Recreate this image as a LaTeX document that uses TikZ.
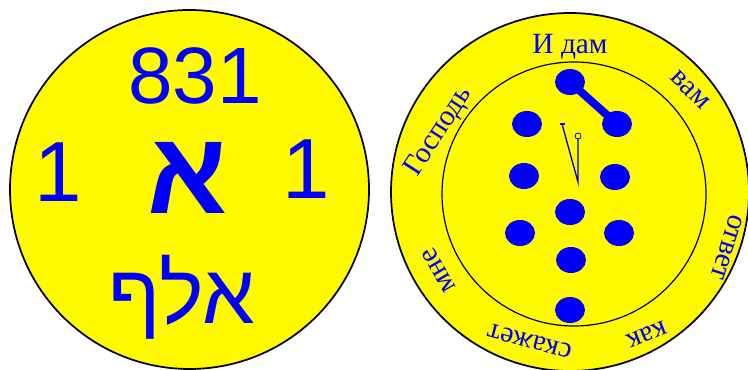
\documentclass[tikz,border=0pt]{standalone}
\usepackage{fontspec}
\setmainfont{Liberation Serif}
\newfontfamily\hebfont[Script=Hebrew]{Liberation Sans}
\newfontfamily\numfont{Liberation Sans}
\TeXXeTstate=1
\usepackage{tikz}
\usetikzlibrary{shapes.geometric, positioning, calc}
\definecolor{coinyellow}{RGB}{255,250,0}
\definecolor{inkblue}{RGB}{0,0,250}

\tikzset{
  coin/.style={draw=black, line width=1.3pt, fill=coinyellow},
  pip/.style={ellipse, fill=inkblue, minimum width=22.5pt, minimum height=19.5pt, inner sep=0pt},
  rimword/.style={text=inkblue, font=\fontsize{22}{26}\selectfont, inner sep=0pt},
  bignum/.style={text=inkblue, font=\numfont\fontsize{60}{70}\selectfont, inner sep=0pt}
}

\begin{document}
\begin{tikzpicture}[x=0.75pt, y=-0.75pt]

  \useasboundingbox (0,0) rectangle (748,370);

  % Coins
  \draw[coin] (189.5,189.5) circle (179.5);
  \draw[coin] (570,192) circle (179);
  \draw[black, line width=0.9pt] (574,194) circle (132);

  % Left face
  \node[bignum] (num) at (195,76) {831};
  \node[bignum, font=\numfont\fontsize{64}{70}\selectfont] (oneL) at (58,172) {1};
  \node[bignum, font=\numfont\fontsize{64}{70}\selectfont] (oneR) at (306,169) {1};
  \node[text=inkblue, font=\hebfont\bfseries\fontsize{88}{100}\selectfont, inner sep=0pt] (alef) at (188,178) {\beginR א\endR};
  \node[text=inkblue, font=\hebfont\fontsize{63}{72}\selectfont, inner sep=0pt] (name) at (182,297) {\beginR אלף\endR};

  % Right face: words round the rim
  \foreach \w/\px/\py/\r [count=\k] in {И дам/570/47/0, вам/690/90/-45, ответ/727/247/-108,
      как/647/334/-158, скажет/530/341/165, мне/439/270/120, Господь/439/132/57}{
    \node[rimword, rotate=\r] (w\k) at (\px,\py) {\w};
  }

  % Pips
  \foreach \px/\py [count=\k] in {570/82, 617/124, 527/124, 524/176, 615/177,
      570/212, 520/233, 619/233, 571/260, 570/310}{
    \node[pip] (d\k) at (\px,\py) {};
  }
  \draw[inkblue, line width=6pt] (d1.center) -- (d2.center);

  % Hands
  \coordinate (pivot) at (578,182);
  \coordinate (tipA) at (562,124);
  \coordinate (tipB) at (578,139);
  \draw[inkblue, line width=1pt] (tipA) -- (pivot) -- (tipB);
  \draw[inkblue, line width=1pt] ($(tipA)+(-2.5,0)$) -- ($(tipA)+(2.5,0)$);
  \node[draw=inkblue, circle, fill=coinyellow, inner sep=0pt, minimum size=4.5pt, line width=0.6pt] (knob) at (578,136) {};

\end{tikzpicture}
\end{document}
